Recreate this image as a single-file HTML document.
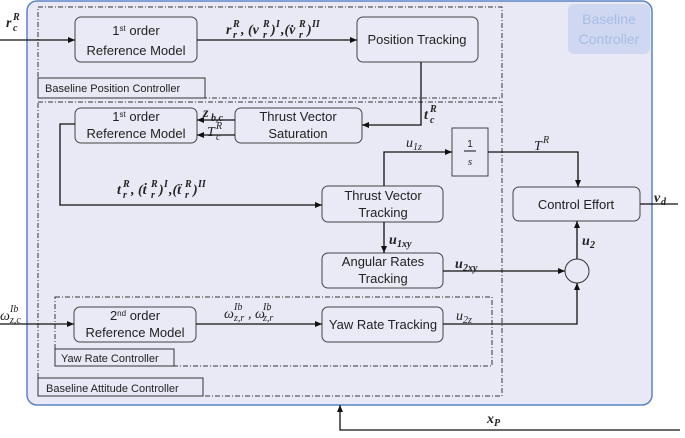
<!DOCTYPE html>
<html><head><meta charset="utf-8"><style>
body{margin:0;background:#fff}
svg{display:block}
text{font-family:"Liberation Sans",sans-serif;font-size:13px;fill:#222}
.m{font-family:"Liberation Serif",serif;font-style:italic;font-weight:bold;font-size:14px}
.mi{font-family:"Liberation Serif",serif;font-style:italic;font-size:14px}
.s{font-family:"Liberation Serif",serif;font-style:italic;font-size:10px}
.sb{font-family:"Liberation Serif",serif;font-style:italic;font-weight:bold;font-size:10px}
.b{fill:#e9eaf6;stroke:#444;stroke-width:1}
.l{stroke:#111;stroke-width:1.3;fill:none}
.d{stroke:#333;stroke-width:1;fill:none;stroke-dasharray:5,2,1,2}
</style></head><body>
<svg width="685" height="438" viewBox="0 0 685 438">
<defs><marker id="a" markerWidth="8" markerHeight="8" refX="7" refY="4" orient="auto" markerUnits="userSpaceOnUse"><path d="M0,1 L7,4 L0,7z" fill="#111"/></marker></defs>
<rect x="27" y="1" width="625" height="404" rx="10" fill="#e8e9f5" stroke="#5b84c6" stroke-width="1.5"/>
<rect x="568" y="4" width="82" height="50" rx="6" fill="#cfd8f0"/>
<text x="609" y="24" text-anchor="middle" style="fill:#a8bde6;font-size:14px">Baseline</text>
<text x="609" y="44" text-anchor="middle" style="fill:#a8bde6;font-size:14px">Controller</text>
<rect class="d" x="38" y="7" width="464" height="91"/>
<rect class="d" x="38" y="102" width="464" height="294"/>
<rect class="d" x="55" y="297" width="437" height="69"/>
<rect x="38" y="78" width="167" height="20" fill="#e8e9f5" stroke="#333"/>
<text x="45" y="92" style="font-size:11px">Baseline Position Controller</text>
<rect x="55" y="349" width="119" height="17" fill="#e8e9f5" stroke="#333"/>
<text x="61" y="362" style="font-size:11px">Yaw Rate Controller</text>
<rect x="38" y="378" width="165" height="18" fill="#e8e9f5" stroke="#333"/>
<text x="46" y="392" style="font-size:11px">Baseline Attitude Controller</text>
<rect class="b" x="75" y="17" width="122" height="45" rx="6"/>
<text x="136" y="35" text-anchor="middle">1<tspan dy="-4" style="font-size:8px">st</tspan><tspan dy="4"> order</tspan></text>
<text x="136" y="55" text-anchor="middle">Reference Model</text>
<rect class="b" x="357" y="17" width="121" height="45" rx="6"/>
<text x="417" y="44" text-anchor="middle">Position Tracking</text>
<rect class="b" x="75" y="108" width="122" height="35" rx="6"/>
<text x="136" y="121" text-anchor="middle">1<tspan dy="-4" style="font-size:8px">st</tspan><tspan dy="4"> order</tspan></text>
<text x="136" y="138" text-anchor="middle">Reference Model</text>
<rect class="b" x="235" y="108" width="127" height="35" rx="6"/>
<text x="298" y="121" text-anchor="middle">Thrust Vector</text>
<text x="298" y="138" text-anchor="middle">Saturation</text>
<rect x="452" y="128" width="36" height="48" fill="#e8e9f5" stroke="#444"/>
<text x="470" y="147" text-anchor="middle" style="font-size:10px">1</text>
<line x1="464" y1="151" x2="476" y2="151" stroke="#111"/>
<text x="470" y="165" text-anchor="middle" class="mi" style="font-size:11px">s</text>
<rect class="b" x="322" y="186" width="121" height="36" rx="6"/>
<text x="383" y="200" text-anchor="middle">Thrust Vector</text>
<text x="383" y="217" text-anchor="middle">Tracking</text>
<rect class="b" x="513" y="187" width="127" height="34" rx="6"/>
<text x="576" y="209" text-anchor="middle">Control Effort</text>
<rect class="b" x="322" y="253" width="121" height="35" rx="6"/>
<text x="383" y="266" text-anchor="middle">Angular Rates</text>
<text x="383" y="283" text-anchor="middle">Tracking</text>
<circle cx="577" cy="271" r="12" fill="#e8e9f5" stroke="#333"/>
<rect class="b" x="74" y="307" width="122" height="35" rx="6"/>
<text x="135" y="320" text-anchor="middle">2<tspan dy="-4" style="font-size:8px">nd</tspan><tspan dy="4"> order</tspan></text>
<text x="135" y="337" text-anchor="middle">Reference Model</text>
<rect class="b" x="322" y="307" width="121" height="35" rx="6"/>
<text x="383" y="329" text-anchor="middle">Yaw Rate Tracking</text>
<line class="l" x1="0" y1="40" x2="75" y2="40" marker-end="url(#a)"/>
<line class="l" x1="197" y1="40" x2="357" y2="40" marker-end="url(#a)"/>
<polyline class="l" points="421,62 421,125 362,125" marker-end="url(#a)"/>
<line class="l" x1="235" y1="120" x2="197" y2="120" marker-end="url(#a)"/>
<line class="l" x1="235" y1="135" x2="197" y2="135" marker-end="url(#a)"/>
<polyline class="l" points="75,124 60,124 60,205 322,205" marker-end="url(#a)"/>
<polyline class="l" points="384,186 384,152 452,152" marker-end="url(#a)"/>
<polyline class="l" points="488,152 578,152 578,187" marker-end="url(#a)"/>
<line class="l" x1="640" y1="204" x2="678" y2="204"/>
<line class="l" x1="384" y1="222" x2="384" y2="253" marker-end="url(#a)"/>
<line class="l" x1="443" y1="271" x2="565" y2="271" marker-end="url(#a)"/>
<line class="l" x1="577" y1="259" x2="577" y2="221" marker-end="url(#a)"/>
<line class="l" x1="0" y1="324" x2="74" y2="324" marker-end="url(#a)"/>
<line class="l" x1="196" y1="324" x2="322" y2="324" marker-end="url(#a)"/>
<polyline class="l" points="443,324 577,324 577,283" marker-end="url(#a)"/>
<polyline class="l" points="680,430 340,430 340,405" marker-end="url(#a)"/>
<!-- r_c^R -->
<text x="6" y="27" class="m">r</text><text x="13" y="31" class="sb">c</text><text x="13" y="20" class="sb">R</text>
<!-- top label -->
<text x="226" y="34" class="m">r</text><text x="233" y="38" class="sb">r</text><text x="233" y="27" class="sb">R</text>
<text x="241" y="34" class="m">, (v</text><text x="263" y="38" class="sb">r</text><text x="263" y="27" class="sb">R</text>
<text x="271" y="34" class="m">)</text><text x="276" y="27" class="sb">I</text>
<text x="281" y="34" class="m">,(v̇</text><text x="299" y="38" class="sb">r</text><text x="299" y="27" class="sb">R</text>
<text x="307" y="34" class="m">)</text><text x="312" y="27" class="sb">II</text>
<!-- t_c^R -->
<text x="424" y="119" class="m">t</text><text x="430" y="123" class="sb">c</text><text x="430" y="112" class="sb">R</text>
<text x="203" y="117" class="m">z</text><text x="211" y="121" class="sb">b,c</text>
<text x="207" y="136" class="mi">T</text><text x="216" y="140" class="s">c</text><text x="216" y="129" class="s">R</text>
<!-- t_r label -->
<text x="117" y="194" class="m">t</text><text x="123" y="198" class="sb">r</text><text x="123" y="187" class="sb">R</text>
<text x="131" y="194" class="m">, (ṫ</text><text x="151" y="198" class="sb">r</text><text x="151" y="187" class="sb">R</text>
<text x="159" y="194" class="m">)</text><text x="164" y="187" class="sb">I</text>
<text x="169" y="194" class="m">,(ẗ</text><text x="185" y="198" class="sb">r</text><text x="185" y="187" class="sb">R</text>
<text x="193" y="194" class="m">)</text><text x="198" y="187" class="sb">II</text>
<text x="406" y="147" class="mi">u</text><text x="413" y="150" class="s">1z</text>
<text x="534" y="150" class="mi">T</text><text x="543" y="143" class="s">R</text>
<text x="654" y="202" class="m">v</text><text x="661" y="205" class="sb">d</text>
<text x="389" y="244" class="m">u</text><text x="397" y="247" class="sb">1xy</text>
<text x="455" y="268" class="m">u</text><text x="463" y="271" class="sb">2xy</text>
<text x="582" y="245" class="m">u</text><text x="590" y="248" class="sb">2</text>
<text x="0" y="320" class="mi">ω</text><text x="10" y="323" class="s">z,c</text><text x="10" y="312" class="s">Ib</text>
<text x="224" y="318" class="mi">ω</text><text x="234" y="321" class="s">z,r</text><text x="234" y="310" class="s">Ib</text>
<text x="248" y="318" class="mi">, ω̇</text><text x="263" y="321" class="s">z,r</text><text x="263" y="310" class="s">Ib</text>
<text x="456" y="320" class="mi">u</text><text x="463" y="323" class="s">2z</text>
<text x="487" y="423" class="m">x</text><text x="494" y="426" class="sb">P</text>
</svg>
</body></html>
